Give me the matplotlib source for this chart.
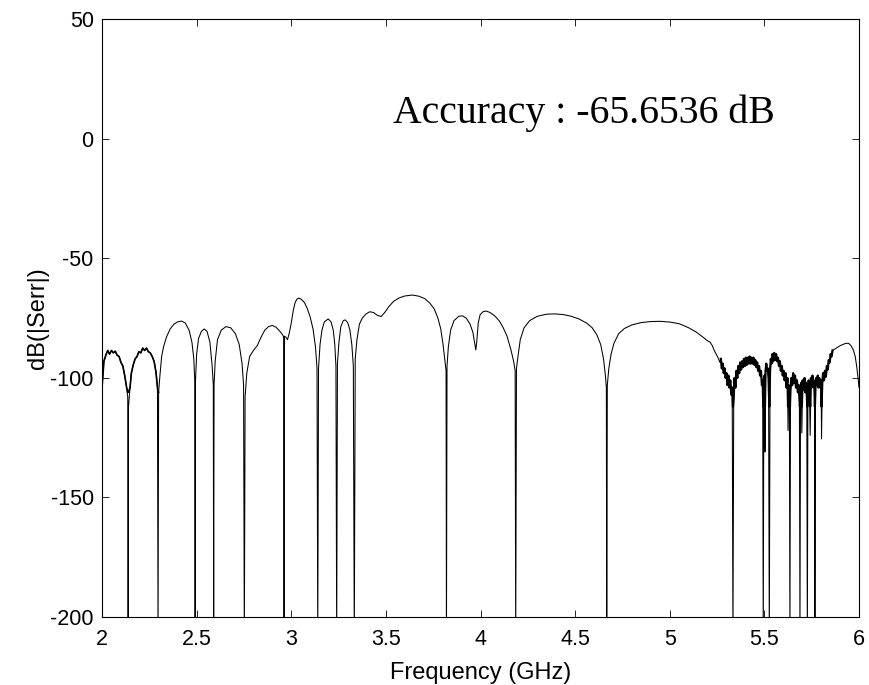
import numpy as np
import matplotlib
matplotlib.use('Agg')
from matplotlib import pyplot as plt

# error spectrum (GHz, dB)
freq_a = [2.000, 2.010, 2.020, 2.030, 2.040, 2.050, 2.060, 2.070, 2.080, 2.090,
          2.100, 2.110, 2.120, 2.130, 2.136, 2.138, 2.140, 2.148, 2.155, 2.165,
          2.175, 2.185, 2.195, 2.205, 2.215, 2.225, 2.235, 2.245, 2.255, 2.265,
          2.275, 2.285, 2.293, 2.296, 2.299, 2.306, 2.315, 2.325, 2.340, 2.360,
          2.380, 2.400, 2.420, 2.440, 2.460, 2.475, 2.485, 2.490, 2.492, 2.494,
          2.500, 2.510, 2.525, 2.540, 2.555, 2.570, 2.582, 2.588, 2.590, 2.592,
          2.598, 2.610, 2.630, 2.655, 2.680, 2.705, 2.725, 2.740, 2.748, 2.752,
          2.756, 2.765, 2.780, 2.800, 2.820, 2.840, 2.860, 2.880, 2.900, 2.920,
          2.940, 2.955, 2.960, 2.962, 2.964, 2.972, 2.980, 2.990]
db_a = [-104, -93, -90.5, -88.5, -90, -88.5, -89.5, -88.8, -90.5, -91,
        -93.5, -95, -99, -104, -108, -210, -112, -104, -98, -94.5,
        -92, -91, -89, -89.5, -87.5, -88.5, -87.5, -89, -89.5, -91,
        -93, -97.5, -104, -210, -106, -99, -91, -87, -83, -79.5,
        -77.5, -76.5, -76.2, -77, -80, -85, -92, -101, -210, -101,
        -90, -83.5, -80.5, -79.5, -80.5, -85, -95, -103, -210, -103,
        -93, -84, -80, -78.5, -79, -81.5, -86, -94, -103, -210,
        -108, -98, -91, -88.5, -86.5, -83, -80, -78.5, -78, -78.8,
        -80.5, -82, -83, -210, -82.5, -83, -84, -81]

freq_b = [3.000, 3.010, 3.020, 3.030, 3.040, 3.055, 3.070, 3.085, 3.100, 3.115,
          3.128, 3.136, 3.140, 3.144, 3.152, 3.162, 3.175, 3.195, 3.210, 3.222,
          3.230, 3.236, 3.240, 3.244, 3.252, 3.262, 3.275, 3.285, 3.298, 3.310,
          3.320, 3.328, 3.333, 3.338, 3.347, 3.360, 3.375, 3.395, 3.415, 3.435,
          3.455, 3.475, 3.495, 3.515, 3.540, 3.570, 3.600, 3.640, 3.675, 3.705,
          3.730, 3.755, 3.775, 3.790, 3.802, 3.812, 3.818, 3.820, 3.823, 3.830,
          3.842, 3.860, 3.885, 3.905, 3.925, 3.945, 3.960, 3.970, 3.975, 3.980,
          3.988, 3.998, 4.015, 4.030, 4.050, 4.075, 4.100, 4.120, 4.140, 4.160,
          4.175, 4.183, 4.186, 4.190, 4.198, 4.210, 4.230, 4.260, 4.300, 4.350,
          4.395, 4.440, 4.480, 4.520, 4.560, 4.590, 4.615, 4.635, 4.650, 4.660,
          4.665, 4.667, 4.670, 4.678, 4.690]
db_b = [-77, -72, -68.5, -67, -66.6, -67.2, -68.5, -71, -74.5, -79.5,
        -87, -96, -210, -96, -86, -80, -76.5, -75.3, -76.5, -80,
        -86, -95, -210, -94, -85, -78.5, -76, -75.7, -76.8, -80,
        -86, -95, -210, -92, -84, -77.5, -75, -73.2, -72.3, -72.6,
        -73.8, -74.3, -72.5, -70.2, -68, -66.5, -65.7, -65.3, -65.8, -66.8,
        -68.5, -71, -75, -79.5, -86, -93, -97, -210, -95, -87,
        -80, -76, -74.2, -74, -75, -77.5, -81, -86, -88.3, -85,
        -77, -73.5, -72.2, -72, -72.6, -74, -76.2, -79, -82.5, -88,
        -93, -97, -210, -96, -91, -84, -79, -76, -74.2, -73.3,
        -73.2, -73.5, -74.2, -75.3, -77, -79, -82, -86, -92, -99,
        -104, -210, -103, -96, -90]

freq_c = [4.705, 4.730, 4.760, 4.800, 4.850, 4.900, 4.950, 5.000, 5.050, 5.100,
          5.140, 5.160, 5.185, 5.200, 5.213, 5.225, 5.235, 5.245, 5.255, 5.265,
          5.270, 5.275, 5.280, 5.285, 5.290, 5.295, 5.300, 5.305, 5.310, 5.315,
          5.320, 5.325, 5.330, 5.334, 5.338, 5.342, 5.347, 5.352, 5.357, 5.362,
          5.367, 5.372, 5.377, 5.382, 5.387, 5.392, 5.397, 5.402, 5.407, 5.412,
          5.417, 5.422, 5.427, 5.432, 5.437, 5.442, 5.447, 5.452, 5.457, 5.462,
          5.467, 5.472, 5.477, 5.482, 5.487, 5.491, 5.494, 5.497, 5.501, 5.503,
          5.506, 5.510, 5.514, 5.518, 5.522, 5.526, 5.530, 5.534, 5.538, 5.542,
          5.547, 5.552, 5.557, 5.562, 5.567, 5.572, 5.577, 5.582, 5.587, 5.592,
          5.597, 5.602, 5.607, 5.612, 5.617, 5.622, 5.625, 5.628, 5.632, 5.635,
          5.638, 5.642, 5.647, 5.652, 5.657, 5.662, 5.667, 5.672, 5.677, 5.682,
          5.685, 5.688, 5.691, 5.695, 5.698, 5.702, 5.707, 5.712, 5.716, 5.720,
          5.724, 5.727, 5.730, 5.734, 5.738, 5.742, 5.746, 5.750, 5.754, 5.758,
          5.762, 5.765, 5.767, 5.770, 5.774, 5.778, 5.782, 5.786, 5.790, 5.795,
          5.800, 5.802, 5.806, 5.810, 5.815, 5.820, 5.825, 5.830, 5.835, 5.840,
          5.845, 5.850, 5.855, 5.860, 5.870, 5.880, 5.890, 5.900, 5.915, 5.930,
          5.945, 5.958, 5.970, 5.980, 5.988, 5.995, 6.000]
db_c = [-85.5, -81.5, -79.3, -77.8, -76.8, -76.4, -76.3, -76.6, -77.3, -79,
        -80.8, -82, -83.5, -84.5, -85, -86.5, -88.5, -90, -91.5, -93.5,
        -92, -96, -94, -98, -96, -100, -98, -103, -99, -104,
        -101, -107, -104, -210, -108, -100, -104, -97, -100, -95,
        -98, -93.5, -96.5, -93, -95.5, -92, -95, -91.5, -94.5, -91.5,
        -94, -91, -94, -91.5, -94, -91.5, -94.5, -92.5, -95.5, -93.5,
        -97, -95, -99, -97, -103, -101, -210, -106, -99, -131,
        -97, -94, -97, -96, -100, -210, -97, -92, -94, -90,
        -93, -89.5, -92.5, -90, -93, -91.5, -95, -93, -97, -95,
        -99, -97, -101, -98, -104, -100, -122, -103, -106, -210,
        -105, -100, -103, -98, -102, -99, -104, -101, -106, -103,
        -108, -210, -106, -102, -123, -101, -105, -100, -106, -102,
        -107, -210, -106, -101, -104, -124, -100, -104, -99, -103,
        -101, -106, -210, -104, -100, -103, -99, -104, -100, -104,
        -101, -125.5, -102, -98, -101, -97, -99.5, -95, -96.5, -92.5,
        -93.5, -90, -91, -88.5, -88, -87.5, -87, -86.5, -86, -85.5,
        -85.5, -86.5, -88.3, -91, -95.3, -100, -104]

x_ticks = [2, 2.5, 3, 3.5, 4, 4.5, 5, 5.5, 6]
x_tick_labels = ['2', '2.5', '3', '3.5', '4', '4.5', '5', '5.5', '6']
y_ticks = [-200, -150, -100, -50, 0, 50]
accuracy_db = -65.6536

freq = np.array(freq_a + freq_b + freq_c)
db = np.array(db_a + db_b + db_c)

plt.rcParams['font.family'] = ['Liberation Sans', 'DejaVu Sans']
plt.rcParams['axes.unicode_minus'] = False

fig = plt.figure(figsize=(8.69, 6.85), dpi=100)
ax = fig.add_axes([0.1174, 0.0993, 0.8711, 0.8723])

ax.plot(freq, db, color='k', linewidth=0.75)

# the noisy stretches look like a thick band in the original
noisy_lo = freq <= 2.30
noisy_hi = (freq >= 5.27) & (freq <= 5.86)
ax.plot(freq[noisy_lo], np.maximum(db[noisy_lo], -106), color='k', linewidth=1.2)
ax.plot(freq[noisy_hi], np.maximum(db[noisy_hi], -112), color='k', linewidth=1.6)

ax.set_xlim(2, 6)
ax.set_ylim(-200, 50)
ax.set_xticks(x_ticks)
ax.set_xticklabels(x_tick_labels)
ax.set_yticks(y_ticks)
ax.tick_params(direction='in', length=5, width=0.6, labelsize=15.5,
               top=True, right=True)
ax.tick_params(axis='x', pad=8.5)
ax.tick_params(axis='y', pad=6)
for s in ax.spines.values():
    s.set_linewidth(0.8)

ax.set_xlabel('Frequency (GHz)', fontsize=17, labelpad=9)
ax.set_ylabel('dB(|Serr|)', fontsize=17, labelpad=1)

ax.text(3.538, 6.7, f'Accuracy : {accuracy_db} dB', fontsize=28.6,
        family=['Liberation Serif', 'DejaVu Serif'], ha='left', va='baseline')

fig.savefig('out.png', dpi=100)
